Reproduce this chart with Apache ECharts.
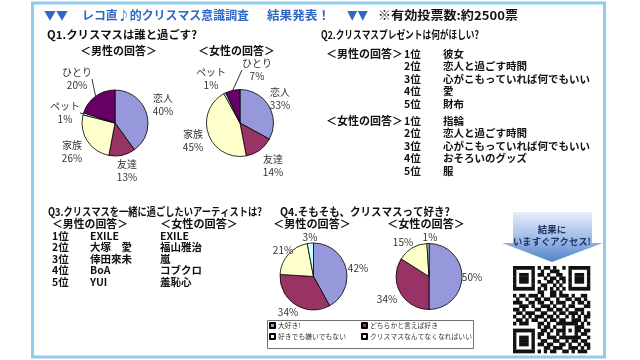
<!DOCTYPE html>
<html><head><meta charset="utf-8">
<script src="https://cdn.jsdelivr.net/npm/echarts@6.0.0/dist/echarts.min.js"></script>
<style>html,body{margin:0;padding:0;background:#fff}#c{width:640px;height:360px}</style>
</head><body><div id="c"></div>
<script>
// ---------- data ----------
const q1Categories = ['恋人', '友達', '家族', 'ペット', 'ひとり'];
const q1Male = [40, 13, 26, 1, 20];
const q1Female = [33, 14, 45, 1, 7];

const q2Ranks = ['1位', '2位', '3位', '4位', '5位'];
const q2Male = ['彼女', '恋人と過ごす時間', '心がこもっていれば何でもいい', '愛', '財布'];
const q2Female = ['指輪', '恋人と過ごす時間', '心がこもっていれば何でもいい', 'おそろいのグッズ', '服'];

const q3Ranks = ['1位', '2位', '3位', '4位', '5位'];
const q3Male = ['EXILE', '大塚　愛', '倖田來未', 'BoA', 'YUI'];
const q3Female = ['EXILE', '福山雅治', '嵐', 'コブクロ', '羞恥心'];

const q4Categories = ['大好き!', 'どちらかと言えば好き', '好きでも嫌いでもない', 'クリスマスなんてなくなればいい'];
const q4Male = [42, 34, 21, 3];
const q4Female = [50, 34, 15, 1];

// ---------- styles / layout ----------
const FONT = '"Noto Sans CJK JP", "Noto Sans", sans-serif';
const BLUE = '#3067c4';
const INK = '#111';
const q1Colors = ['#9797dc', '#993366', '#ffffcc', '#ccffff', '#660066'];
const q4Colors = ['#9797dc', '#993366', '#ffffcc', '#ccffff'];

const q1MaleCenter = [115, 123], q1FemaleCenter = [240, 123];
const q4MaleCenter = [313.5, 276.5], q4FemaleCenter = [429, 276.5];
const q1MaleLabelOffsets = [[48, -18], [12, 48], [-43, 29], [-50, -10], [-38, -44]];
const q1FemaleLabelOffsets = [[40, -24], [33, 43], [-47, 18], [-29, -44], [17, -53]];
const q4MaleLabelOffsets = [[44.5, -8.5], [-25.5, 35.5], [-30.5, -26.5], [-3.5, -39.5]];
const q4FemaleLabelOffsets = [[43, 0.5], [-42, 22.5], [-26, -34.5], [1, -39.5]];

const mctx = document.createElement('canvas').getContext('2d');
function txt(text, x, y, size, color, target, weight, align) {
  weight = weight || 'bold';
  align = align || 'left';
  const font = weight + ' ' + size + 'px ' + FONT;
  let sx = 1;
  if (target) {
    mctx.font = font;
    const w = mctx.measureText(text).width;
    if (w > 0) sx = target / w;
  }
  return {
    type: 'text', x: x, y: y, scaleX: sx, silent: true,
    style: { text: text, x: 0, y: 0, font: font, fill: color,
      textAlign: align, textVerticalAlign: 'middle', align: align, verticalAlign: 'middle' }
  };
}

const graphics = [];
// frame
graphics.push({ type: 'rect', z: -10, silent: true,
  shape: { x: 32.5, y: 3, width: 572, height: 354 },
  style: { fill: '#fff', stroke: '#8fcbeb', lineWidth: 3 } });

// title
graphics.push(txt('▼▼', 44, 15, 12, BLUE, 24));
graphics.push(txt('レコ直♪的クリスマス意識調査', 82, 15, 12, BLUE, 167));
graphics.push(txt('結果発表！', 267, 15, 12, BLUE, 63));
graphics.push(txt('▼▼', 347, 15, 12, BLUE, 21));
graphics.push(txt('※有効投票数:約2500票', 378, 15, 12, INK, 140));

// Q1
graphics.push(txt('Q1.クリスマスは誰と過ごす?', 47, 35, 11, INK, 150));
graphics.push(txt('＜男性の回答＞', 80, 51, 11, INK, 77));
graphics.push(txt('＜女性の回答＞', 198, 51, 11, INK, 77));

// Q2
graphics.push(txt('Q2.クリスマスプレゼントは何がほしい?', 321, 35, 11, INK, 158));
const q2MaleY = [54, 66.5, 79, 91.5, 104];
const q2FemaleY = [121, 133.5, 146, 158.5, 171];
graphics.push(txt('＜男性の回答＞', 326, q2MaleY[0], 11, INK, 77));
graphics.push(txt('＜女性の回答＞', 326, q2FemaleY[0], 11, INK, 77));
q2Ranks.forEach(function (r, i) {
  graphics.push(txt(r, 404, q2MaleY[i], 10.5, INK));
  graphics.push(txt(q2Male[i], 443, q2MaleY[i], 10.5, INK));
  graphics.push(txt(r, 404, q2FemaleY[i], 10.5, INK));
  graphics.push(txt(q2Female[i], 443, q2FemaleY[i], 10.5, INK));
});

// Q3
graphics.push(txt('Q3.クリスマスを一緒に過ごしたいアーティストは?', 48, 212, 11, INK, 214));
graphics.push(txt('＜男性の回答＞', 52, 224, 11, INK, 76));
graphics.push(txt('＜女性の回答＞', 160, 224, 11, INK, 78));
const q3Y = [236, 247.5, 259, 270.5, 282];
q3Ranks.forEach(function (r, i) {
  graphics.push(txt(r, 52, q3Y[i], 10.5, INK));
  graphics.push(txt(q3Male[i], 90, q3Y[i], 10.5, INK));
  graphics.push(txt(q3Female[i], 160, q3Y[i], 10.5, INK));
});

// Q4
graphics.push(txt('Q4.そもそも、クリスマスって好き?', 280, 212, 11, INK, 170));
graphics.push(txt('＜男性の回答＞', 273, 224, 11, INK, 78));
graphics.push(txt('＜女性の回答＞', 387, 224, 11, INK, 78));
// legend frame
graphics.push({ type: 'rect', silent: true, z: 1,
  shape: { x: 267.5, y: 320.5, width: 206, height: 28 },
  style: { fill: 'none', stroke: '#707070', lineWidth: 1 } });

// arrow
graphics.push({ type: 'polygon', silent: true,
  shape: { points: [[513, 212], [592, 212], [592, 243], [603, 243], [552, 262], [502, 243], [513, 243]] },
  style: { fill: new echarts.graphic.LinearGradient(0, 0, 0, 1, [
    { offset: 0, color: '#e8eefa' }, { offset: 0.55, color: '#9db9e6' }, { offset: 1, color: '#4f82c8' }]) } });
graphics.push(txt('結果に', 552, 229, 9.5, '#1d3466', null, 'bold', 'center'));
graphics.push(txt('いますぐアクセス!', 552, 241, 9.5, '#1d3466', 78, 'bold', 'center'));

// QR-like pattern (decorative)
const qrRows = [
  '1111111010110100101111111',
  '1000001001001110001000001',
  '1011101011010011001011101',
  '1011101000101101101011101',
  '1011101010011010101011101',
  '1000001001100101001000001',
  '1111111010101010101111111',
  '0000000011001101000000000',
  '1011011101001101110100110',
  '0100100110110010011011010',
  '1110011011001011100101101',
  '0011101001110100101100011',
  '1101000110011011010011100',
  '0110111001100101101110101',
  '1001010111011010010101011',
  '0110101100101101100111010',
  '1011100011010011111110101',
  '0000000010110100100011100',
  '1111111001101011101011011',
  '1000001011010010100010110',
  '1011101010011101111111001',
  '1011101001100110010110110',
  '1011101011011001101001011',
  '1000001000110111001110101',
  '1111111010101100110101110'
];
const qrX = 513, qrY = 266, qrW = 77, qrH = 87;
const mw = qrW / 25, mh = qrH / 25;
const qrChildren = [];
qrRows.forEach(function (row, r) {
  let c = 0;
  while (c < row.length) {
    if (row[c] === '1') {
      let e = c;
      while (e < row.length && row[e] === '1') e++;
      qrChildren.push({ type: 'rect', silent: true,
        shape: { x: qrX + c * mw, y: qrY + r * mh, width: (e - c) * mw + 0.3, height: mh + 0.3 },
        style: { fill: '#111' } });
      c = e;
    } else c++;
  }
});
graphics.push({ type: 'group', children: qrChildren });

// ---------- series ----------
function pieSeries(cats, vals, colors, center, radius, offsets, fmt, lineIdx) {
  return {
    type: 'pie', center: center, radius: radius, startAngle: 90, clockwise: true,
    avoidLabelOverlap: false, silent: true, emphasis: { disabled: true },
    itemStyle: { borderColor: '#000', borderWidth: 0.8 },
    label: { show: true, position: 'outside', formatter: fmt, fontSize: 10, color: '#333',
      fontFamily: FONT, lineHeight: 13 },
    labelLine: { show: false, length: 4, length2: 0, lineStyle: { color: '#000', width: 0.8 } },
    labelLayout: function (p) {
      const o = offsets[p.dataIndex];
      return { x: center[0] + o[0], y: center[1] + o[1], align: 'center', verticalAlign: 'middle' };
    },
    data: cats.map(function (n, i) {
      const d = { name: n, value: vals[i], itemStyle: { color: colors[i] } };
      if (lineIdx && lineIdx.indexOf(i) >= 0) d.labelLine = { show: true };
      return d;
    })
  };
}

const legendText = { fontSize: 6.8, color: '#333', fontFamily: FONT, padding: [0, 0, 0, -2] };
const chart = echarts.init(document.getElementById('c'), null, { renderer: 'canvas' });
chart.setOption({
  animation: false,
  backgroundColor: '#fff',
  graphic: { elements: graphics },
  legend: [
    { data: [q4Categories[0], q4Categories[2]], left: 269, top: 322, orient: 'vertical',
      itemWidth: 5, itemHeight: 5, itemGap: 4, padding: 0, icon: 'rect', selectedMode: false,
      textStyle: legendText },
    { data: [q4Categories[1], q4Categories[3]], left: 361, top: 322, orient: 'vertical',
      itemWidth: 5, itemHeight: 5, itemGap: 4, padding: 0, icon: 'rect', selectedMode: false,
      textStyle: legendText }
  ],
  series: [
    pieSeries(q1Categories, q1Male, q1Colors, q1MaleCenter, 33, q1MaleLabelOffsets, '{b}\n{c}%', [3, 4]),
    pieSeries(q1Categories, q1Female, q1Colors, q1FemaleCenter, 33.5, q1FemaleLabelOffsets, '{b}\n{c}%', [4]),
    pieSeries(q4Categories, q4Male, q4Colors, q4MaleCenter, 33.5, q4MaleLabelOffsets, '{c}%'),
    pieSeries(q4Categories, q4Female, q4Colors, q4FemaleCenter, 33, q4FemaleLabelOffsets, '{c}%')
  ]
});
</script>
</body></html>
